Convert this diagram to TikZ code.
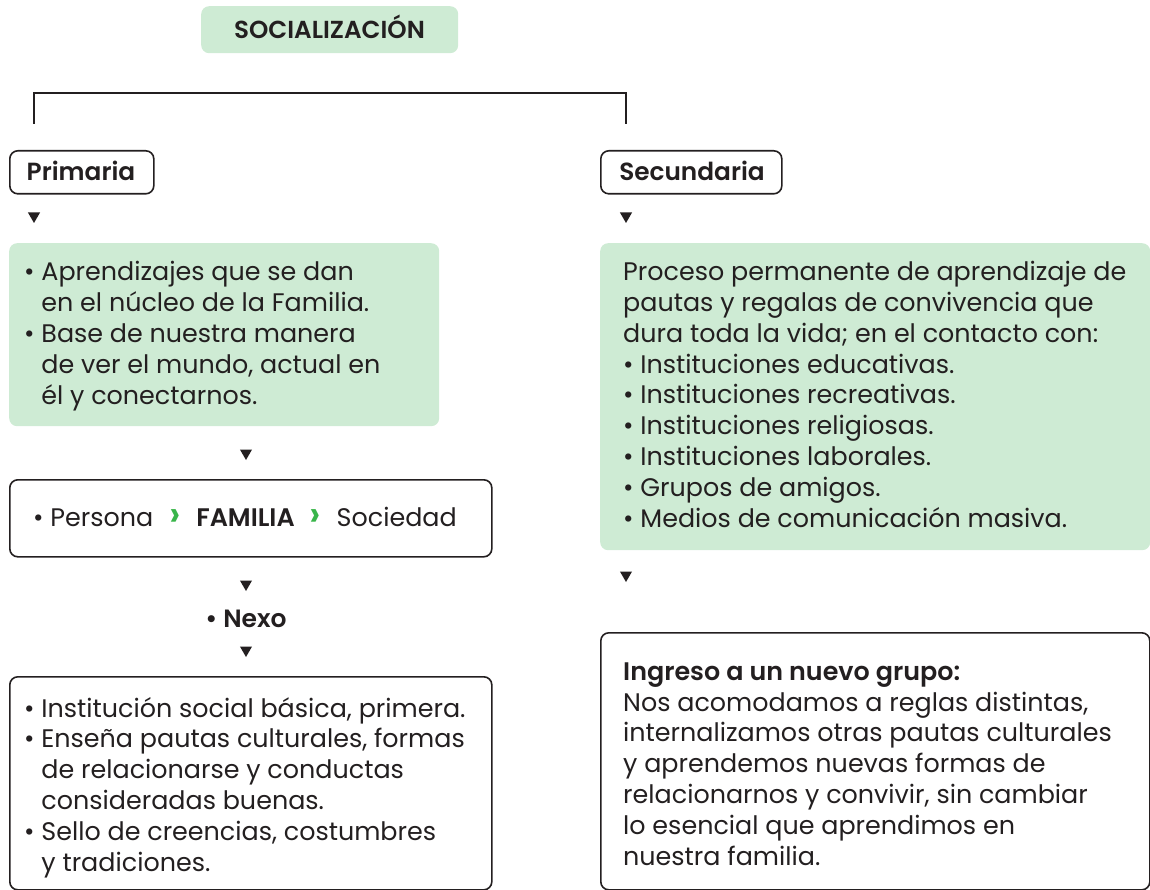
\documentclass[tikz,border=0pt]{standalone}
\usepackage{fontspec}
\setmainfont{Poppins}[BoldFont={Poppins SemiBold}]
\usetikzlibrary{positioning,shapes.geometric}
\definecolor{verdeclaro}{RGB}{206,235,212}
\definecolor{verdeflecha}{RGB}{57,181,74}
\definecolor{tinta}{RGB}{35,31,32}
\newcommand{\sangria}{\hphantom{• }}
\newcommand{\flecha}{\textcolor{verdeflecha}{\fontsize{36}{30}\selectfont\bfseries ›}}
\tikzset{
  caja/.style={draw=tinta, line width=1.6, rounded corners=8, inner sep=0, anchor=north west},
  cajaverde/.style={fill=verdeclaro, rounded corners=8, inner sep=0, anchor=north west},
  texto/.style={inner sep=0, anchor=base west, align=left, text=tinta, font=\fontsize{25.4}{30.8}\selectfont},
  rotulo/.style={inner sep=0, anchor=base, text=tinta, font=\bfseries\fontsize{24.8}{28}\selectfont},
  punta/.style={regular polygon, regular polygon sides=3, shape border rotate=180, fill=tinta, inner sep=0, minimum size=14}
}
\begin{document}
\begin{tikzpicture}[x=1pt,y=-1pt]
   \clip (0,0) rectangle (1150,890);
   % titulo
   \node[cajaverde, minimum width=257, minimum height=47] (socializacion) at (201,6) {};
   \node[rotulo, font=\bfseries\fontsize{24.6}{28}\selectfont] (titulo) at (329.5,39) {SOCIALIZACIÓN};
   % llave
   \coordinate (llaveizq) at (34,124);
   \coordinate (llaveder) at (626,124);
   \draw[tinta, line width=1.3] (llaveizq) -- ++(0,-31) -| (llaveder);
   % primaria y secundaria
   \node[caja, minimum width=144, minimum height=43] (primaria) at (9,150) {};
   \node[rotulo] (primariatxt) at (81,181) {Primaria};
   \node[caja, minimum width=181, minimum height=43] (secundaria) at (600,150) {};
   \node[rotulo] (secundariatxt) at (692,181) {Secundaria};
   \node[punta] (p1) at (34,216) {};
   \node[punta] (s1) at (626,216) {};
   % columna primaria (base = ultima linea)
   \node[cajaverde, minimum width=430, minimum height=183] (aprendizajes) at (9,243) {};
   \node[texto] (aprendizajestxt) at (24,404) {• Aprendizajes que se dan\\
      \sangria en el núcleo de la Familia.\\
      • Base de nuestra manera\\
      \sangria de ver el mundo, actual en\\
      \sangria él y conectarnos.};
   \node[punta] (p2) at (246,453) {};
   \node[caja, minimum width=482, minimum height=77] (familia) at (9,479) {};
   \node[texto, anchor=base] (familiatxt) at (245,526) {• Persona\hspace{9pt} \flecha\hspace{9pt} \textbf{FAMILIA}\hspace{8pt} \flecha\hspace{9pt} Sociedad};
   \node[punta] (p3) at (246,584) {};
   \node[rotulo, font=\bfseries\fontsize{25}{30}\selectfont] (nexo) at (246,627) {• Nexo};
   \node[punta] (p4) at (246,650) {};
   \node[caja, minimum width=482, minimum height=213] (institucion) at (9,676) {};
   \node[texto] (instituciontxt) at (24,871) {• Institución social básica, primera.\\
      • Enseña pautas culturales, formas\\
      \sangria de relacionarse y conductas\\
      \sangria consideradas buenas.\\
      • Sello de creencias, costumbres\\
      \sangria y tradiciones.};
   % columna secundaria
   \node[cajaverde, minimum width=550, minimum height=307] (proceso) at (600,243) {};
   \node[texto] (procesotxt) at (623,527) {Proceso permanente de aprendizaje de\\
      pautas y regalas de convivencia que\\
      dura toda la vida; en el contacto con:\\
      • Instituciones educativas.\\
      • Instituciones recreativas.\\
      • Instituciones religiosas.\\
      • Instituciones laborales.\\
      • Grupos de amigos.\\
      • Medios de comunicación masiva.};
   \node[punta] (s2) at (626,575) {};
   \node[caja, minimum width=549, minimum height=257] (ingreso) at (600,632) {};
   \node[texto] (ingresotxt) at (623,865) {\textbf{Ingreso a un nuevo grupo:}\\
      Nos acomodamos a reglas distintas,\\
      internalizamos otras pautas culturales\\
      y aprendemos nuevas formas de\\
      relacionarnos y convivir, sin cambiar\\
      lo esencial que aprendimos en\\
      nuestra familia.};
\end{tikzpicture}
\end{document}
